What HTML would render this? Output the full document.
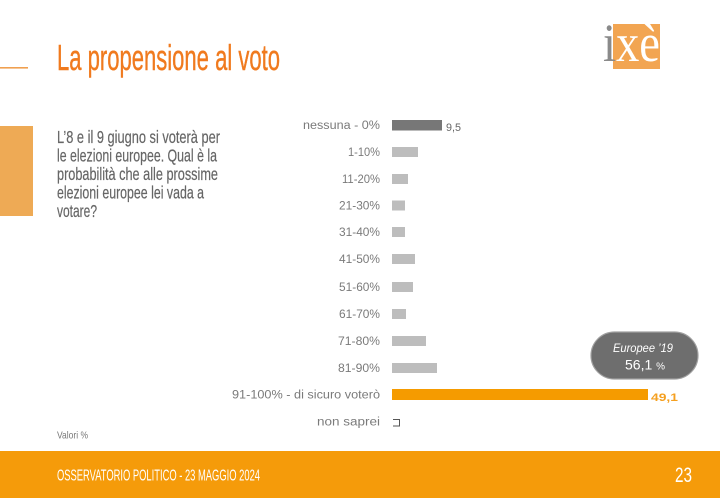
<!DOCTYPE html>
<html><head><meta charset="utf-8"><style>
html,body{margin:0;padding:0;background:#fff;width:720px;height:498px;overflow:hidden}
svg{display:block}
</style></head><body>
<svg width="720" height="498" viewBox="0 0 720 498" xmlns="http://www.w3.org/2000/svg" font-family="Liberation Sans, sans-serif">
<rect width="720" height="498" fill="#fff"/>
<!-- header -->
<rect x="0" y="67" width="28" height="1.6" fill="#f0a050"/>
<text x="57" y="70" font-size="36" fill="#f07a1e" stroke="#f07a1e" stroke-width="0.4" textLength="223" lengthAdjust="spacingAndGlyphs">La propensione al voto</text>
<!-- logo -->
<rect x="613" y="24" width="47" height="45" fill="#f2a552"/>
<text x="603" y="61" font-family="Liberation Serif, serif" font-size="54" textLength="57" lengthAdjust="spacingAndGlyphs"><tspan fill="#8a8a8a">i</tspan><tspan fill="#fff">xè</tspan></text>
<!-- left block -->
<rect x="0" y="126" width="33" height="90" fill="#eeaa55"/>
<!-- question -->
<g font-size="17.5" fill="#666" stroke="#666" stroke-width="0.2">
<text x="57" y="143" textLength="163" lengthAdjust="spacingAndGlyphs">L’8 e il 9 giugno si voterà per</text>
<text x="57" y="161.5" textLength="160" lengthAdjust="spacingAndGlyphs">le elezioni europee. Qual è la</text>
<text x="57" y="180" textLength="161" lengthAdjust="spacingAndGlyphs">probabilità che alle prossime</text>
<text x="57" y="198.5" textLength="147" lengthAdjust="spacingAndGlyphs">elezioni europee lei vada a</text>
<text x="57" y="217" textLength="40" lengthAdjust="spacingAndGlyphs">votare?</text>
</g>
<!-- labels -->
<g font-size="11.5" fill="#7a7a7a">
<text x="303" y="129" textLength="77" lengthAdjust="spacingAndGlyphs">nessuna - 0%</text>
<text x="348" y="156" textLength="32" lengthAdjust="spacingAndGlyphs">1-10%</text>
<text x="342" y="183" textLength="38" lengthAdjust="spacingAndGlyphs">11-20%</text>
<text x="339" y="209.5" textLength="41" lengthAdjust="spacingAndGlyphs">21-30%</text>
<text x="339" y="236" textLength="41" lengthAdjust="spacingAndGlyphs">31-40%</text>
<text x="339" y="263" textLength="41" lengthAdjust="spacingAndGlyphs">41-50%</text>
<text x="339" y="291" textLength="41" lengthAdjust="spacingAndGlyphs">51-60%</text>
<text x="339" y="318" textLength="41" lengthAdjust="spacingAndGlyphs">61-70%</text>
<text x="338" y="345" textLength="42" lengthAdjust="spacingAndGlyphs">71-80%</text>
<text x="338" y="372" textLength="42" lengthAdjust="spacingAndGlyphs">81-90%</text>
<text x="232" y="398.5" textLength="148" lengthAdjust="spacingAndGlyphs">91-100% - di sicuro voterò</text>
<text x="317" y="425.5" textLength="63" lengthAdjust="spacingAndGlyphs">non saprei</text>
</g>
<!-- bars -->
<rect x="392" y="120" width="50" height="10.5" fill="#777"/>
<rect x="392" y="147" width="26" height="10" fill="#bdbdbd"/>
<rect x="392" y="174" width="16" height="10" fill="#bdbdbd"/>
<rect x="392" y="200.5" width="13" height="10" fill="#bdbdbd"/>
<rect x="392" y="227" width="13" height="10" fill="#bdbdbd"/>
<rect x="392" y="254" width="23" height="10" fill="#bdbdbd"/>
<rect x="392" y="282" width="21" height="10" fill="#bdbdbd"/>
<rect x="392" y="309" width="14" height="10" fill="#bdbdbd"/>
<rect x="392" y="336" width="34" height="10" fill="#bdbdbd"/>
<rect x="392" y="363" width="45" height="10" fill="#bdbdbd"/>
<rect x="392" y="389" width="256" height="11" fill="#f59b00"/>
<path d="M393 419.5 H399.5 V426 H393" fill="none" stroke="#555" stroke-width="1"/>
<!-- values -->
<text x="446" y="131" font-size="11" fill="#666" textLength="15" lengthAdjust="spacingAndGlyphs">9,5</text>
<text x="651" y="401" font-size="11" font-weight="bold" fill="#f5a020" textLength="27" lengthAdjust="spacingAndGlyphs">49,1</text>
<!-- pill -->
<rect x="591" y="332" width="107" height="47" rx="23.5" fill="#6e6e6e" stroke="#a0a0a0" stroke-width="1.2"/>
<text x="613" y="352" font-size="11.5" font-style="italic" fill="#fff" textLength="60" lengthAdjust="spacingAndGlyphs">Europee ’19</text>
<text x="625" y="369.5" font-size="14" fill="#fff">56,1 <tspan font-size="10">%</tspan></text>
<!-- note -->
<text x="57" y="438.5" font-size="10.5" fill="#777" textLength="31" lengthAdjust="spacingAndGlyphs">Valori %</text>
<!-- footer -->
<rect x="0" y="451" width="720" height="47" fill="#f59b0a"/>
<text x="57" y="480.5" font-size="16" fill="#fff" textLength="203" lengthAdjust="spacingAndGlyphs">OSSERVATORIO POLITICO - 23 MAGGIO 2024</text>
<text x="675" y="482" font-size="21" fill="#fff" textLength="17" lengthAdjust="spacingAndGlyphs">23</text>
</svg>
</body></html>
